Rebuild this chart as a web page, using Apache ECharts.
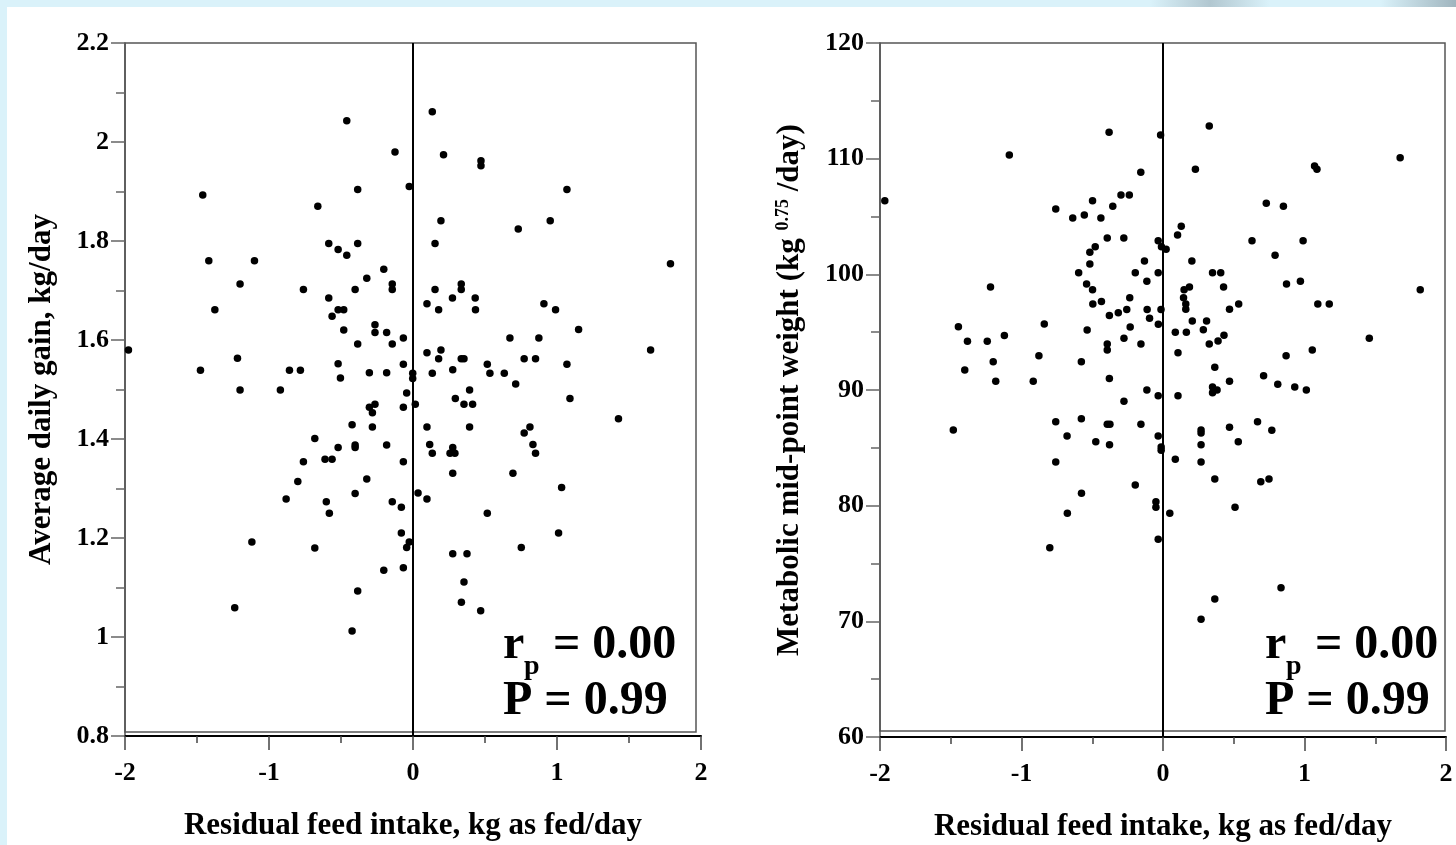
<!DOCTYPE html>
<html>
<head>
<meta charset="utf-8">
<script src="https://cdn.jsdelivr.net/npm/echarts@6/dist/echarts.min.js"></script>
<style>
html,body{margin:0;padding:0;background:#daf2fa;}
#c{width:1456px;height:845px;}
</style>
</head>
<body>
<div id="c"></div>
<script>
// ---- tick labels ----
const xTicks = [-2, -1, 0, 1, 2];
const adgTicks = [0.8, 1, 1.2, 1.4, 1.6, 1.8, 2, 2.2];
const mmwTicks = [60, 70, 80, 90, 100, 110, 120];

// ---- left panel: residual feed intake (x) vs average daily gain (y) ----
const rfiA = [-1.46,-0.46,-0.125,-0.384,-0.026,0.134,0.212,0.472,0.472,-0.661,
  -0.585,-0.52,-0.46,-0.384,-1.418,-1.101,-1.201,-0.761,-0.585,-0.402,
  -0.321,-0.203,-0.144,-0.144,0.194,0.153,0.153,0.335,0.335,0.274,
  0.432,1.069,0.953,0.731,1.788,0.097,0.178,0.434,0.909,0.99,
  1.15,-0.067,0.673,0.874,1.65,0.097,0.194,0.178,0.335,0.354,
  0.772,0.851,-0.067,0.516,1.069,-0.002,-0.002,0.134,0.276,0.534,
  0.634,0.713,-0.044,0.393,-0.067,0.016,0.294,0.354,0.414,1.09,
  1.427,0.097,0.393,0.812,0.772,0.116,0.134,0.276,0.257,0.291,
  0.833,0.851,-0.067,0.276,0.694,1.032,0.035,0.097,0.516,-0.081,
  1.011,-0.081,-0.026,-0.044,0.752,0.276,0.375,-1.376,-0.562,-0.52,
  -0.481,-0.481,-0.384,-0.264,-0.264,-0.183,-0.144,-1.976,-1.219,-1.476,
  -0.858,-0.782,-0.52,-0.303,-0.183,-0.504,-1.201,-0.921,-0.303,-0.264,
  -0.282,-0.423,-0.282,-0.682,-0.52,-0.402,-0.402,-0.183,-0.611,-0.562,
  -0.761,-0.8,-0.321,-0.881,-0.402,-0.602,-0.144,-0.581,-1.119,-0.682,
  -0.203,-0.067,0.354,-0.384,-1.238,-0.423,0.336,0.47];
const adg = [1.893,2.043,1.98,1.904,1.91,2.061,1.974,1.962,1.952,1.87,
  1.795,1.783,1.771,1.795,1.76,1.76,1.713,1.702,1.685,1.702,
  1.725,1.743,1.713,1.702,1.841,1.795,1.702,1.713,1.702,1.685,
  1.685,1.904,1.841,1.824,1.754,1.673,1.661,1.661,1.673,1.661,
  1.621,1.604,1.604,1.604,1.58,1.574,1.58,1.562,1.562,1.562,
  1.562,1.562,1.551,1.551,1.551,1.533,1.522,1.533,1.54,1.533,
  1.533,1.511,1.493,1.499,1.464,1.47,1.482,1.47,1.47,1.482,
  1.441,1.424,1.424,1.424,1.412,1.389,1.371,1.383,1.371,1.371,
  1.389,1.371,1.354,1.331,1.331,1.302,1.291,1.279,1.25,1.262,
  1.21,1.21,1.192,1.181,1.181,1.168,1.168,1.661,1.648,1.661,
  1.661,1.62,1.592,1.631,1.615,1.615,1.592,1.58,1.563,1.539,
  1.539,1.539,1.552,1.534,1.534,1.523,1.499,1.499,1.464,1.47,
  1.453,1.429,1.424,1.401,1.383,1.388,1.383,1.388,1.359,1.359,
  1.354,1.314,1.319,1.279,1.29,1.273,1.273,1.25,1.192,1.18,
  1.135,1.14,1.111,1.093,1.059,1.012,1.07,1.053];

// ---- right panel: residual feed intake (x) vs metabolic mid-point weight (y) ----
const rfiB = [-1.966,-1.086,-0.381,-0.017,0.327,1.676,-0.157,0.229,1.071,1.088,
  -0.297,-0.238,-0.498,-0.355,-0.758,-0.638,-0.556,-0.439,0.73,0.851,
  0.129,0.103,-0.394,-0.277,-0.034,-0.011,0.022,-0.479,-0.517,0.629,
  0.99,0.792,-0.517,-0.131,0.204,-0.596,-0.196,-0.034,0.35,0.408,
  -1.219,-0.54,-0.498,-0.114,0.149,0.187,0.145,0.428,0.873,0.971,
  1.818,-0.235,-0.496,-0.435,0.161,0.161,0.47,0.535,1.094,1.175,
  -0.379,-0.316,-0.256,-0.112,-0.014,-0.095,-0.033,-0.232,-1.446,-1.382,
  -1.242,-1.121,-0.839,-0.536,0.087,0.165,0.207,0.285,0.308,0.431,
  0.389,0.327,-0.276,-0.394,-0.394,-0.156,1.458,0.106,1.055,0.87,
  -0.877,-1.2,-0.577,-1.401,-1.182,-0.917,-0.379,0.366,0.47,0.711,
  0.811,0.931,1.013,-0.114,-0.034,0.106,0.35,0.35,0.382,-0.276,
  -1.482,-0.758,-0.577,-0.394,-0.375,-0.156,0.47,0.668,0.769,-0.678,
  -0.475,-0.378,-0.034,-0.013,-0.013,0.269,0.269,0.269,0.532,0.087,
  0.269,-0.758,0.366,0.691,0.749,-0.196,-0.576,-0.05,-0.05,-0.676,
  0.048,0.509,-0.034,-0.8,0.834,0.366,0.269];
const mmw = [106.37,110.32,112.28,112.05,112.82,110.08,108.82,109.08,109.37,109.08,
  106.86,106.86,106.37,105.88,105.65,104.87,105.13,104.87,106.14,105.88,
  104.15,103.4,103.14,103.14,102.91,102.39,102.16,102.39,101.91,102.91,
  102.91,101.65,100.89,101.15,101.15,100.14,100.14,100.14,100.14,100.14,
  98.91,99.16,98.67,99.4,98.67,98.91,97.98,98.91,99.16,99.4,
  98.67,97.98,97.44,97.65,97.44,96.98,96.98,97.44,97.44,97.44,
  96.44,96.68,96.96,96.96,96.96,96.21,95.69,95.45,95.46,94.22,
  94.22,94.71,95.71,95.19,94.99,94.99,95.97,95.21,95.97,94.73,
  94.24,93.98,94.47,93.98,93.46,93.98,94.47,93.23,93.46,92.97,
  92.97,92.45,92.45,91.73,90.75,90.75,90.99,91.96,90.75,91.24,
  90.49,90.26,90.0,90.0,89.51,89.51,90.26,89.77,90.0,89.02,
  86.54,87.26,87.51,87.04,87.04,87.04,86.78,87.26,86.52,86.02,
  85.53,85.27,86.02,85.07,84.8,86.54,86.28,85.27,85.53,84.01,
  83.78,83.78,82.31,82.07,82.31,81.79,81.07,80.34,79.86,79.34,
  79.34,79.86,77.09,76.37,72.91,71.93,70.18];

const statR = '0.00';
const statP = '0.99';

const FONT = '"Liberation Serif", "Times New Roman", serif';

function zip(a, b) { return a.map((v, i) => [v, b[i]]); }
function fmt(v) { return String(Math.round(v * 10) / 10); }

function xAxisCfg(gridIndex, name) {
  return {
    type: 'value', gridIndex: gridIndex, position: 'bottom',
    min: xTicks[0], max: xTicks[xTicks.length - 1], interval: xTicks[1] - xTicks[0],
    axisLine: { show: true, onZero: false, lineStyle: { color: '#000', width: 2 } },
    axisTick: { show: true, length: 14, lineStyle: { color: '#444', width: 1.5 } },
    minorTick: { show: true, splitNumber: 2, length: 7, lineStyle: { color: '#444', width: 1.5 } },
    splitLine: { show: false }, minorSplitLine: { show: false },
    axisLabel: { margin: 24, color: '#000', fontFamily: FONT, fontWeight: 'bold', fontSize: 26, formatter: fmt },
    name: name, nameLocation: 'middle', nameGap: 74, nameMoveOverlap: false,
    nameTextStyle: { color: '#000', fontFamily: FONT, fontWeight: 'bold', fontSize: 31 }
  };
}
function yAxisCfg(gridIndex, ticks, name, gap, rich) {
  return {
    type: 'value', gridIndex: gridIndex, position: 'left',
    min: ticks[0], max: ticks[ticks.length - 1], interval: ticks[1] - ticks[0],
    axisLine: { show: true, onZero: false, lineStyle: { color: '#555', width: 1.5 } },
    axisTick: { show: true, length: 14, lineStyle: { color: '#666', width: 1.5 } },
    minorTick: { show: true, splitNumber: 2, length: 9, lineStyle: { color: '#666', width: 1.5 } },
    splitLine: { show: false }, minorSplitLine: { show: false },
    axisLabel: { margin: 16, color: '#000', fontFamily: FONT, fontWeight: 'bold', fontSize: 26, formatter: fmt },
    name: name, nameLocation: 'middle', nameGap: gap, nameMoveOverlap: false,
    nameTextStyle: { color: '#000', fontFamily: FONT, fontWeight: 'bold', fontSize: 31, rich: rich }
  };
}
function hiddenAxis(gridIndex) {
  return { type: 'value', gridIndex: gridIndex, show: false, min: 0, max: 1,
           splitLine: { show: false } };
}
function scatter(xi, data) {
  return {
    type: 'scatter', xAxisIndex: xi, yAxisIndex: xi, data: data,
    symbol: 'circle', symbolSize: 7.5, itemStyle: { color: '#000', opacity: 1 },
    silent: true, animation: false,
    markLine: {
      silent: true, symbol: ['none', 'none'], animation: false,
      label: { show: false },
      lineStyle: { color: '#000', width: 2, type: 'solid', opacity: 1 },
      data: [{ xAxis: 0 }]
    }
  };
}
function statTexts(x0) {
  const big = 'bold 48px ' + FONT;
  return [
    { type: 'text', x: x0, y: 646, style: { text: 'r', font: big, fill: '#000', verticalAlign: 'middle' } },
    { type: 'text', x: x0 + 21, y: 667, style: { text: 'p', font: 'bold 28px ' + FONT, fill: '#000', verticalAlign: 'middle' } },
    { type: 'text', x: x0 + 50, y: 646, style: { text: '= ' + statR, font: big, fill: '#000', verticalAlign: 'middle' } },
    { type: 'text', x: x0, y: 702, style: { text: 'P = ' + statP, font: big, fill: '#000', verticalAlign: 'middle' } }
  ];
}

const chart = echarts.init(document.getElementById('c'), null, { renderer: 'canvas' });
const frame = { show: true, backgroundColor: 'rgba(0,0,0,0)', borderColor: '#555', borderWidth: 1.5, outerBoundsMode: 'none' };
chart.setOption({
  animation: false,
  backgroundColor: '#daf2fa',
  grid: [
    { left: 125, top: 43, width: 576, height: 693, outerBoundsMode: 'none', containLabel: false },
    Object.assign({ left: 125, top: 43, width: 571, height: 689 }, frame),
    { left: 880, top: 43, width: 566, height: 694, outerBoundsMode: 'none', containLabel: false },
    Object.assign({ left: 880, top: 43, width: 565, height: 688 }, frame)
  ],
  xAxis: [
    xAxisCfg(0, 'Residual feed intake, kg as fed/day'),
    hiddenAxis(1),
    xAxisCfg(2, 'Residual feed intake, kg as fed/day'),
    hiddenAxis(3)
  ],
  yAxis: [
    yAxisCfg(0, adgTicks, 'Average daily gain, kg/day', 68),
    hiddenAxis(1),
    yAxisCfg(2, mmwTicks, 'Metabolic mid-point weight (kg {s|0.75} /day)', 75,
      { s: { fontSize: 18, fontWeight: 'bold', fontFamily: FONT, color: '#000', verticalAlign: 'top' } }),
    hiddenAxis(3)
  ],
  series: [
    scatter(0, zip(rfiA, adg)),
    scatter(2, zip(rfiB, mmw))
  ],
  graphic: [
    { type: 'rect', z: -10, shape: { x: 7, y: 7, width: 1449, height: 838 }, style: { fill: '#ffffff' } },
    { type: 'rect', z: -10, shape: { x: 1150, y: 0, width: 120, height: 7 },
      style: { fill: new echarts.graphic.LinearGradient(0, 0, 1, 0, [
        { offset: 0, color: 'rgba(150,170,180,0)' },
        { offset: 0.5, color: 'rgba(150,170,180,0.6)' },
        { offset: 1, color: 'rgba(150,170,180,0)' }]) } },
    { type: 'rect', z: -10, shape: { x: 1380, y: 0, width: 76, height: 7 },
      style: { fill: new echarts.graphic.LinearGradient(0, 0, 1, 0, [
        { offset: 0, color: 'rgba(140,160,170,0)' },
        { offset: 1, color: 'rgba(140,160,170,0.75)' }]) } }
  ].concat(statTexts(503), statTexts(1265))
});
</script>
</body>
</html>
